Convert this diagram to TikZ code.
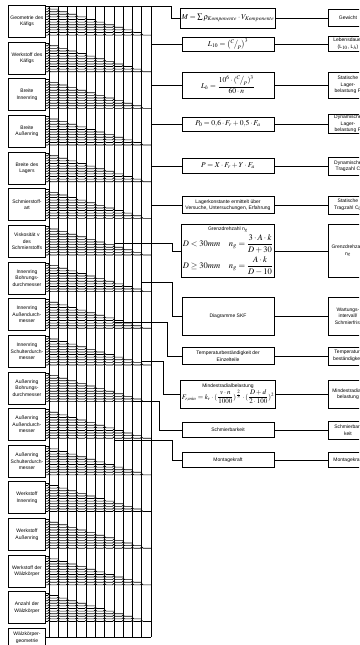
\documentclass[tikz,border=0pt]{standalone}
\usepackage{amsmath,amssymb}
\usepackage{mathptmx}
\usepackage{fontspec}
\setmainfont{Liberation Sans}
\usetikzlibrary{positioning,calc}

\begin{document}
\begin{tikzpicture}[x=1pt, y=-1pt,
    param/.style={draw, line width=0.9pt, anchor=north west, minimum height=32pt,
      text width=36pt, inner sep=0.5pt, align=center, font=\fontsize{5}{6.5}\selectfont},
    formula/.style={draw, line width=1pt, minimum width=92pt, inner sep=1pt,
      align=center, font=\fontsize{5}{6.5}\selectfont},
    result/.style={draw, line width=0.9pt, anchor=west, text width=38pt,
      inner sep=0.5pt, align=center, font=\fontsize{5}{6.5}\selectfont},
    bus/.style={line width=0.65pt},
    link/.style={line width=0.75pt} ]

  \useasboundingbox (0,0) rectangle (359,645);
  \clip (0,0) rectangle (359,645);

  % Parameters
  \foreach \i/\txt in {1/{Geometrie des\\Käfigs}, 2/{Werkstoff des\\Käfigs},
      3/{Breite\\Innenring}, 4/{Breite\\Außenring}, 5/{Breite des\\Lagers},
      6/{Schmierstoff-\\art}, 7/{Viskosität v\\des\\Schmierstoffs},
      8/{Innenring\\Bohrungs-\\durchmesser}, 9/{Innenring\\Außendurch-\\messer},
      10/{Innenring\\Schulterdurch-\\messer}, 11/{Außenring\\Bohrungs-\\durchmesser},
      12/{Außenring\\Außendurch-\\messer}, 13/{Außenring\\Schulterdurch-\\messer},
      14/{Werkstoff\\Innenring}, 15/{Werkstoff\\Außenring},
      16/{Werkstoff der\\Wälzkörper}, 17/{Anzahl der\\Wälzkörper}}
    \node[param] (p\i) at (8,{5+36.65*(\i-1)}) {\txt};
  \node[param, minimum height=18pt] (p18) at (8,628) {Wälzkörper-\\geometrie};

  % Bus lines
  \foreach \j in {0,...,11} \coordinate (v\j) at ({49+9.27*\j},6.5);
  \foreach \j in {0,...,11} \draw[bus] (v\j) -- (v\j |- p18.east);
  \draw[bus] (p18.east) -- (v11 |- p18.east);

  % Fan-out of every parameter onto the bus
  \foreach \i in {1,...,17} {
    \foreach \k in {0,...,11} {
      \pgfmathsetmacro\yy{5+36.65*(\i-1)+1.5+2.6*\k}
      \ifnum\k=0
        \draw[bus] (45,\yy) -- (49,\yy);
      \else
        \pgfmathtruncatemacro\km{\k-1}
        \draw[bus] (45,\yy) foreach \m in {0,...,\km} {
          -- ({49+9.27*\m-1.3},\yy) arc (180:360:1.3) } -- ({49+9.27*\k},\yy);
      \fi
    }
  }

  % Formulas
  \node[formula, minimum height=20pt] (f1) at (228,18)
    {\fontsize{7.5}{8}\selectfont $M=\sum\rho_{Komponente}\cdot V_{Komponente}$};
  \node[formula, minimum height=14pt] (f2) at (228,44)
    {\fontsize{7.5}{8}\selectfont $L_{10}=\bigl({}^{C}\!\big/_{\!P}\bigr)^{3}$};
  \node[formula, minimum height=26pt] (f3) at (228,85)
    {\fontsize{7.5}{8}\selectfont $L_h=\dfrac{10^6\cdot({}^{C}\!\big/_{\!P})^3}{60\cdot n}$};
  \node[formula, minimum height=14pt] (f4) at (228,124)
    {\fontsize{7.5}{8}\selectfont $P_0=0{,}6\cdot F_r+0{,}5\cdot F_a$};
  \node[formula, minimum height=15pt] (f5) at (228,166)
    {\fontsize{7.5}{8}\selectfont $P=X\cdot F_r+Y\cdot F_a$};
  \node[formula, minimum height=17pt] (f6) at (228,205)
    {Lagerkonstante ermittelt über\\Versuche, Untersuchungen, Erfahrung};
  \node[formula, minimum height=53pt] (f7) at (228,251)
    {Grenzdrehzahl n$_g$\\[1pt]
     {\fontsize{8.5}{9}\selectfont $D<30mm\quad n_g=\dfrac{3\cdot A\cdot k}{D+30}$}\\[3pt]
     {\fontsize{8.5}{9}\selectfont $D\geq 30mm\quad n_g=\dfrac{A\cdot k}{D-10}$}};
  \node[formula, minimum height=38pt] (f8) at (228,316) {Diagramme SKF};
  \node[formula, minimum height=17pt] (f9) at (228,356)
    {Temperaturbeständigkeit der\\Einzelteile};
  \node[formula, minimum height=28pt] (f10) at (228,394)
    {Mindestradialbelastung\\
     {\fontsize{7}{7}\selectfont $F_{r,min}=k_r\cdot(\dfrac{v\cdot n}{1000})^{\frac{2}{3}}\cdot(\dfrac{D+d}{2\cdot100})^2$}};
  \node[formula, minimum height=15pt] (f11) at (228,430) {Schmierbarkeit};
  \node[formula, minimum height=15pt] (f12) at (228,460) {Montagekraft};

  % Results
  \node[result, minimum height=17pt] (r1) at (328,18) {Gewicht};
  \node[result, minimum height=15pt] (r2) at (328,44) {Lebensdauer\\(L$_{10}$, L$_h$)};
  \node[result, minimum height=26pt] (r3) at (328,85) {Statische\\Lager-\\belastung P};
  \node[result, minimum height=18pt] (r4) at (328,124) {Dynamische\\Lager-\\belastung P};
  \node[result, minimum height=18pt] (r5) at (328,166) {Dynamische\\Tragzahl C};
  \node[result, minimum height=18pt] (r6) at (328,205) {Statische\\Tragzahl C$_0$};
  \node[result, minimum height=53pt] (r7) at (328,251) {Grenzdrehzahl\\n$_g$};
  \node[result, minimum height=38pt] (r8) at (328,316) {Wartungs-\\intervall/\\Schmierfrist};
  \node[result, minimum height=18pt] (r9) at (328,356) {Temperatur-\\beständigkeit};
  \node[result, minimum height=28pt] (r10) at (328,394) {Mindestradial-\\belastung};
  \node[result, minimum height=18pt] (r11) at (328,430) {Schmierbar-\\keit};
  \node[result, minimum height=15pt] (r12) at (328,460) {Montagekraft};

  \foreach \i in {1,...,12} \draw[link] (f\i) -- (r\i);

  % Bus taps to the formulas
  \coordinate (c7) at (113.9,243);
  \coordinate (c8) at (141.7,282);
  \coordinate (c9) at (113.9,322);
  \coordinate (c10) at (141.7,361);
  \coordinate (c11) at (132.4,401);
  \coordinate (c12) at (113.9,440);

  \draw[link] (v0) -| ([xshift=-9pt]f1.west) -- (f1.west);
  \foreach \i in {2,...,6} \draw[link] (v11 |- f\i.west) -- (f\i.west);
  \draw[link] (c7) -| ([xshift=-9pt]f7.west) -- (f7.west);
  \draw[link] (c8) -| ([xshift=-9pt]f8.west) -- (f8.west);
  \draw[link] (c9) -| ([xshift=-14pt]f9.west) -- (f9.west);
  \draw[link] (c10) -| ([xshift=-17pt]f10.west) -- (f10.west);
  \draw[link] (c11) -| ([xshift=-22pt]f11.west) -- (f11.west);
  \draw[link] (c12) -| ([xshift=-9pt]f12.west) -- (f12.west);

\end{tikzpicture}
\end{document}
